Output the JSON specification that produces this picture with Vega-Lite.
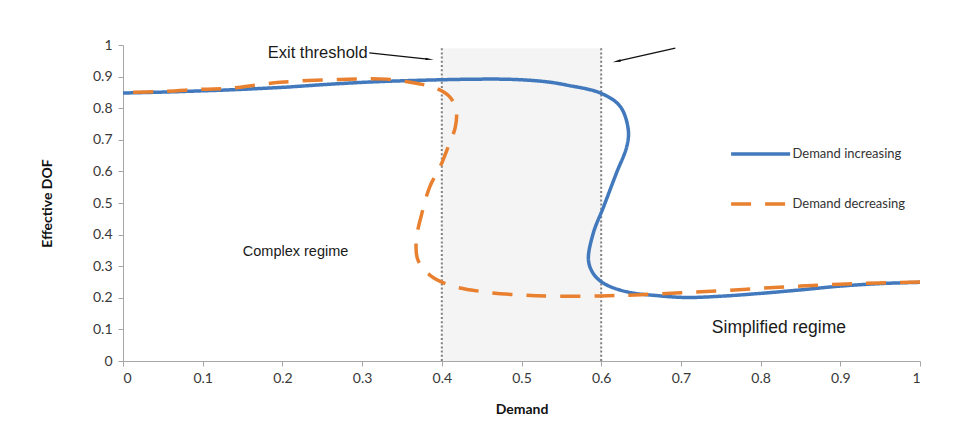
{
  "$schema": "https://vega.github.io/schema/vega-lite/v6.json",
  "autosize": "none",
  "width": 797,
  "height": 316,
  "padding": {"left": 123, "top": 45, "right": 54, "bottom": 61},
  "background": "white",
  "config": {
    "view": {"stroke": null},
    "axis": {
      "grid": false,
      "domainColor": "#a6a6a6",
      "tickColor": "#a6a6a6",
      "tickSize": 5,
      "labelFont": "Lato",
      "labelFontSize": 14,
      "labelColor": "#383838",
      "labelOverlap": false,
      "titleFont": "Lato",
      "titleFontSize": 14,
      "titleFontWeight": "bold",
      "titleColor": "#111111"
    }
  },
  "datasets": {
    "curves": [
      {"series": "Demand increasing", "o": 1, "x": 0.0, "y": 0.848},
      {"series": "Demand increasing", "o": 2, "x": 0.05, "y": 0.851},
      {"series": "Demand increasing", "o": 3, "x": 0.1, "y": 0.855},
      {"series": "Demand increasing", "o": 4, "x": 0.134, "y": 0.858},
      {"series": "Demand increasing", "o": 5, "x": 0.2, "y": 0.866},
      {"series": "Demand increasing", "o": 6, "x": 0.26, "y": 0.876},
      {"series": "Demand increasing", "o": 7, "x": 0.32, "y": 0.884},
      {"series": "Demand increasing", "o": 8, "x": 0.4, "y": 0.89},
      {"series": "Demand increasing", "o": 9, "x": 0.45, "y": 0.892},
      {"series": "Demand increasing", "o": 10, "x": 0.49, "y": 0.891},
      {"series": "Demand increasing", "o": 11, "x": 0.53, "y": 0.884},
      {"series": "Demand increasing", "o": 12, "x": 0.557, "y": 0.873},
      {"series": "Demand increasing", "o": 13, "x": 0.6, "y": 0.847},
      {"series": "Demand increasing", "o": 14, "x": 0.624, "y": 0.805},
      {"series": "Demand increasing", "o": 15, "x": 0.634, "y": 0.731},
      {"series": "Demand increasing", "o": 16, "x": 0.632, "y": 0.678},
      {"series": "Demand increasing", "o": 17, "x": 0.619, "y": 0.594},
      {"series": "Demand increasing", "o": 18, "x": 0.603, "y": 0.488},
      {"series": "Demand increasing", "o": 19, "x": 0.59, "y": 0.404},
      {"series": "Demand increasing", "o": 20, "x": 0.584, "y": 0.32},
      {"series": "Demand increasing", "o": 21, "x": 0.59, "y": 0.277},
      {"series": "Demand increasing", "o": 22, "x": 0.603, "y": 0.246},
      {"series": "Demand increasing", "o": 23, "x": 0.632, "y": 0.219},
      {"series": "Demand increasing", "o": 24, "x": 0.674, "y": 0.206},
      {"series": "Demand increasing", "o": 25, "x": 0.707, "y": 0.201},
      {"series": "Demand increasing", "o": 26, "x": 0.75, "y": 0.205},
      {"series": "Demand increasing", "o": 27, "x": 0.8, "y": 0.214},
      {"series": "Demand increasing", "o": 28, "x": 0.85, "y": 0.225},
      {"series": "Demand increasing", "o": 29, "x": 0.9, "y": 0.237},
      {"series": "Demand increasing", "o": 30, "x": 0.95, "y": 0.245},
      {"series": "Demand increasing", "o": 31, "x": 1.0, "y": 0.249},
      {"series": "Demand decreasing", "o": 1, "x": 1.0, "y": 0.25},
      {"series": "Demand decreasing", "o": 2, "x": 0.95, "y": 0.247},
      {"series": "Demand decreasing", "o": 3, "x": 0.9, "y": 0.243},
      {"series": "Demand decreasing", "o": 4, "x": 0.85, "y": 0.237},
      {"series": "Demand decreasing", "o": 5, "x": 0.8, "y": 0.23},
      {"series": "Demand decreasing", "o": 6, "x": 0.75, "y": 0.222},
      {"series": "Demand decreasing", "o": 7, "x": 0.7, "y": 0.216},
      {"series": "Demand decreasing", "o": 8, "x": 0.65, "y": 0.21},
      {"series": "Demand decreasing", "o": 9, "x": 0.6, "y": 0.206},
      {"series": "Demand decreasing", "o": 10, "x": 0.54, "y": 0.205},
      {"series": "Demand decreasing", "o": 11, "x": 0.498, "y": 0.209},
      {"series": "Demand decreasing", "o": 12, "x": 0.452, "y": 0.219},
      {"series": "Demand decreasing", "o": 13, "x": 0.41, "y": 0.24},
      {"series": "Demand decreasing", "o": 14, "x": 0.385, "y": 0.272},
      {"series": "Demand decreasing", "o": 15, "x": 0.37, "y": 0.32},
      {"series": "Demand decreasing", "o": 16, "x": 0.368, "y": 0.383},
      {"series": "Demand decreasing", "o": 17, "x": 0.375, "y": 0.467},
      {"series": "Demand decreasing", "o": 18, "x": 0.385, "y": 0.552},
      {"series": "Demand decreasing", "o": 19, "x": 0.398, "y": 0.615},
      {"series": "Demand decreasing", "o": 20, "x": 0.408, "y": 0.678},
      {"series": "Demand decreasing", "o": 21, "x": 0.417, "y": 0.741},
      {"series": "Demand decreasing", "o": 22, "x": 0.418, "y": 0.794},
      {"series": "Demand decreasing", "o": 23, "x": 0.41, "y": 0.836},
      {"series": "Demand decreasing", "o": 24, "x": 0.393, "y": 0.863},
      {"series": "Demand decreasing", "o": 25, "x": 0.368, "y": 0.879},
      {"series": "Demand decreasing", "o": 26, "x": 0.331, "y": 0.892},
      {"series": "Demand decreasing", "o": 27, "x": 0.272, "y": 0.891},
      {"series": "Demand decreasing", "o": 28, "x": 0.197, "y": 0.882},
      {"series": "Demand decreasing", "o": 29, "x": 0.134, "y": 0.863},
      {"series": "Demand decreasing", "o": 30, "x": 0.1, "y": 0.86},
      {"series": "Demand decreasing", "o": 31, "x": 0.05, "y": 0.853},
      {"series": "Demand decreasing", "o": 32, "x": 0.0, "y": 0.85}
    ],
    "thresholds": [
      {"x": 0.4, "y": 0, "y2": 0.99},
      {"x": 0.6, "y": 0, "y2": 0.99}
    ],
    "band": [{"x": 0.4, "x2": 0.6, "y": 0, "y2": 0.99}],
    "legendRows": [
      {"series": "Demand increasing", "x": 0.763, "x2": 0.837, "y": 0.655, "tx": 0.84},
      {"series": "Demand decreasing", "x": 0.763, "x2": 0.837, "y": 0.497, "tx": 0.84}
    ],
    "arrows": [
      {"x": 0.309, "y": 0.975, "x2": 0.382, "y2": 0.955, "ax": 0.383, "ay": 0.955, "angle": 96},
      {"x": 0.693, "y": 0.99, "x2": 0.622, "y2": 0.95, "ax": 0.621, "ay": 0.949, "angle": 257}
    ],
    "exitLabel": [{"label": "Exit threshold", "x": 0.307, "y": 0.975}],
    "complexLabel": [{"label": "Complex regime", "x": 0.2165, "y": 0.345}],
    "simpleLabel": [{"label": "Simplified regime", "x": 0.823, "y": 0.104}]
  },
  "layer": [
    {
      "data": {"name": "band"},
      "mark": {"type": "rect", "fill": "#f4f4f4"},
      "encoding": {
        "x": {"field": "x", "type": "quantitative", "scale": {"domain": [0, 1], "nice": false},
              "axis": {"values": [0, 0.1, 0.2, 0.3, 0.4, 0.5, 0.6, 0.7, 0.8, 0.9, 1], "format": "~g", "title": "Demand", "titlePadding": 17, "labelPadding": 5}},
        "x2": {"field": "x2"},
        "y": {"field": "y", "type": "quantitative", "scale": {"domain": [0, 1], "nice": false},
              "axis": {"values": [0, 0.1, 0.2, 0.3, 0.4, 0.5, 0.6, 0.7, 0.8, 0.9, 1], "format": "~g", "title": "Effective DOF", "titlePadding": 38, "labelPadding": 6}},
        "y2": {"field": "y2"}
      }
    },
    {
      "data": {"name": "thresholds"},
      "mark": {"type": "rule", "stroke": "#808080", "strokeWidth": 2, "strokeDash": [2, 2.2]},
      "encoding": {
        "x": {"field": "x", "type": "quantitative",
              "axis": {"values": [0, 0.1, 0.2, 0.3, 0.4, 0.5, 0.6, 0.7, 0.8, 0.9, 1], "format": "~g", "title": "Demand", "titlePadding": 17, "labelPadding": 5}},
        "y": {"field": "y", "type": "quantitative",
              "axis": {"values": [0, 0.1, 0.2, 0.3, 0.4, 0.5, 0.6, 0.7, 0.8, 0.9, 1], "format": "~g", "title": "Effective DOF", "titlePadding": 38, "labelPadding": 6}},
        "y2": {"field": "y2"}
      }
    },
    {
      "data": {"name": "curves"},
      "mark": {"type": "line", "strokeWidth": 3.5, "interpolate": "catmull-rom", "strokeCap": "butt"},
      "encoding": {
        "x": {"field": "x", "type": "quantitative",
              "axis": {"values": [0, 0.1, 0.2, 0.3, 0.4, 0.5, 0.6, 0.7, 0.8, 0.9, 1], "format": "~g", "title": "Demand", "titlePadding": 17, "labelPadding": 5}},
        "y": {"field": "y", "type": "quantitative",
              "axis": {"values": [0, 0.1, 0.2, 0.3, 0.4, 0.5, 0.6, 0.7, 0.8, 0.9, 1], "format": "~g", "title": "Effective DOF", "titlePadding": 38, "labelPadding": 6}},
        "order": {"field": "o", "type": "quantitative"},
        "color": {"field": "series", "type": "nominal", "legend": null,
                  "scale": {"domain": ["Demand increasing", "Demand decreasing"], "range": ["#4279bd", "#e8802f"]}},
        "strokeDash": {"field": "series", "type": "nominal", "legend": null,
                       "scale": {"domain": ["Demand increasing", "Demand decreasing"], "range": [[1, 0], [20, 14]]}}
      }
    },
    {
      "data": {"name": "legendRows"},
      "mark": {"type": "rule", "strokeWidth": 3.5},
      "encoding": {
        "x": {"field": "x", "type": "quantitative",
              "axis": {"values": [0, 0.1, 0.2, 0.3, 0.4, 0.5, 0.6, 0.7, 0.8, 0.9, 1], "format": "~g", "title": "Demand", "titlePadding": 17, "labelPadding": 5}},
        "x2": {"field": "x2"},
        "y": {"field": "y", "type": "quantitative",
              "axis": {"values": [0, 0.1, 0.2, 0.3, 0.4, 0.5, 0.6, 0.7, 0.8, 0.9, 1], "format": "~g", "title": "Effective DOF", "titlePadding": 38, "labelPadding": 6}},
        "color": {"field": "series", "type": "nominal", "legend": null},
        "strokeDash": {"field": "series", "type": "nominal", "legend": null}
      }
    },
    {
      "data": {"name": "legendRows"},
      "mark": {"type": "text", "align": "left", "baseline": "middle", "font": "Lato", "fontSize": 13, "fill": "#333333"},
      "encoding": {
        "x": {"field": "tx", "type": "quantitative",
              "axis": {"values": [0, 0.1, 0.2, 0.3, 0.4, 0.5, 0.6, 0.7, 0.8, 0.9, 1], "format": "~g", "title": "Demand", "titlePadding": 17, "labelPadding": 5}},
        "y": {"field": "y", "type": "quantitative",
              "axis": {"values": [0, 0.1, 0.2, 0.3, 0.4, 0.5, 0.6, 0.7, 0.8, 0.9, 1], "format": "~g", "title": "Effective DOF", "titlePadding": 38, "labelPadding": 6}},
        "text": {"field": "series"}
      }
    },
    {
      "data": {"name": "arrows"},
      "mark": {"type": "rule", "stroke": "#111111", "strokeWidth": 1.3},
      "encoding": {
        "x": {"field": "x", "type": "quantitative",
              "axis": {"values": [0, 0.1, 0.2, 0.3, 0.4, 0.5, 0.6, 0.7, 0.8, 0.9, 1], "format": "~g", "title": "Demand", "titlePadding": 17, "labelPadding": 5}},
        "y": {"field": "y", "type": "quantitative",
              "axis": {"values": [0, 0.1, 0.2, 0.3, 0.4, 0.5, 0.6, 0.7, 0.8, 0.9, 1], "format": "~g", "title": "Effective DOF", "titlePadding": 38, "labelPadding": 6}},
        "x2": {"field": "x2"},
        "y2": {"field": "y2"}
      }
    },
    {
      "data": {"name": "arrows"},
      "mark": {"type": "point", "shape": "wedge", "filled": true, "fill": "#111111", "size": 90, "opacity": 1},
      "encoding": {
        "x": {"field": "ax", "type": "quantitative",
              "axis": {"values": [0, 0.1, 0.2, 0.3, 0.4, 0.5, 0.6, 0.7, 0.8, 0.9, 1], "format": "~g", "title": "Demand", "titlePadding": 17, "labelPadding": 5}},
        "y": {"field": "ay", "type": "quantitative",
              "axis": {"values": [0, 0.1, 0.2, 0.3, 0.4, 0.5, 0.6, 0.7, 0.8, 0.9, 1], "format": "~g", "title": "Effective DOF", "titlePadding": 38, "labelPadding": 6}},
        "angle": {"field": "angle", "type": "quantitative", "scale": null}
      }
    },
    {
      "data": {"name": "exitLabel"},
      "mark": {"type": "text", "align": "right", "baseline": "middle", "font": "Liberation Sans", "fontSize": 16.5, "fill": "#1a1a1a"},
      "encoding": {
        "x": {"field": "x", "type": "quantitative",
              "axis": {"values": [0, 0.1, 0.2, 0.3, 0.4, 0.5, 0.6, 0.7, 0.8, 0.9, 1], "format": "~g", "title": "Demand", "titlePadding": 17, "labelPadding": 5}},
        "y": {"field": "y", "type": "quantitative",
              "axis": {"values": [0, 0.1, 0.2, 0.3, 0.4, 0.5, 0.6, 0.7, 0.8, 0.9, 1], "format": "~g", "title": "Effective DOF", "titlePadding": 38, "labelPadding": 6}},
        "text": {"field": "label"}
      }
    },
    {
      "data": {"name": "complexLabel"},
      "mark": {"type": "text", "align": "center", "baseline": "middle", "font": "Liberation Sans", "fontSize": 14.5, "fill": "#1a1a1a"},
      "encoding": {
        "x": {"field": "x", "type": "quantitative",
              "axis": {"values": [0, 0.1, 0.2, 0.3, 0.4, 0.5, 0.6, 0.7, 0.8, 0.9, 1], "format": "~g", "title": "Demand", "titlePadding": 17, "labelPadding": 5}},
        "y": {"field": "y", "type": "quantitative",
              "axis": {"values": [0, 0.1, 0.2, 0.3, 0.4, 0.5, 0.6, 0.7, 0.8, 0.9, 1], "format": "~g", "title": "Effective DOF", "titlePadding": 38, "labelPadding": 6}},
        "text": {"field": "label"}
      }
    },
    {
      "data": {"name": "simpleLabel"},
      "mark": {"type": "text", "align": "center", "baseline": "middle", "font": "Liberation Sans", "fontSize": 17.5, "fill": "#1a1a1a"},
      "encoding": {
        "x": {"field": "x", "type": "quantitative",
              "axis": {"values": [0, 0.1, 0.2, 0.3, 0.4, 0.5, 0.6, 0.7, 0.8, 0.9, 1], "format": "~g", "title": "Demand", "titlePadding": 17, "labelPadding": 5}},
        "y": {"field": "y", "type": "quantitative",
              "axis": {"values": [0, 0.1, 0.2, 0.3, 0.4, 0.5, 0.6, 0.7, 0.8, 0.9, 1], "format": "~g", "title": "Effective DOF", "titlePadding": 38, "labelPadding": 6}},
        "text": {"field": "label"}
      }
    }
  ]
}
